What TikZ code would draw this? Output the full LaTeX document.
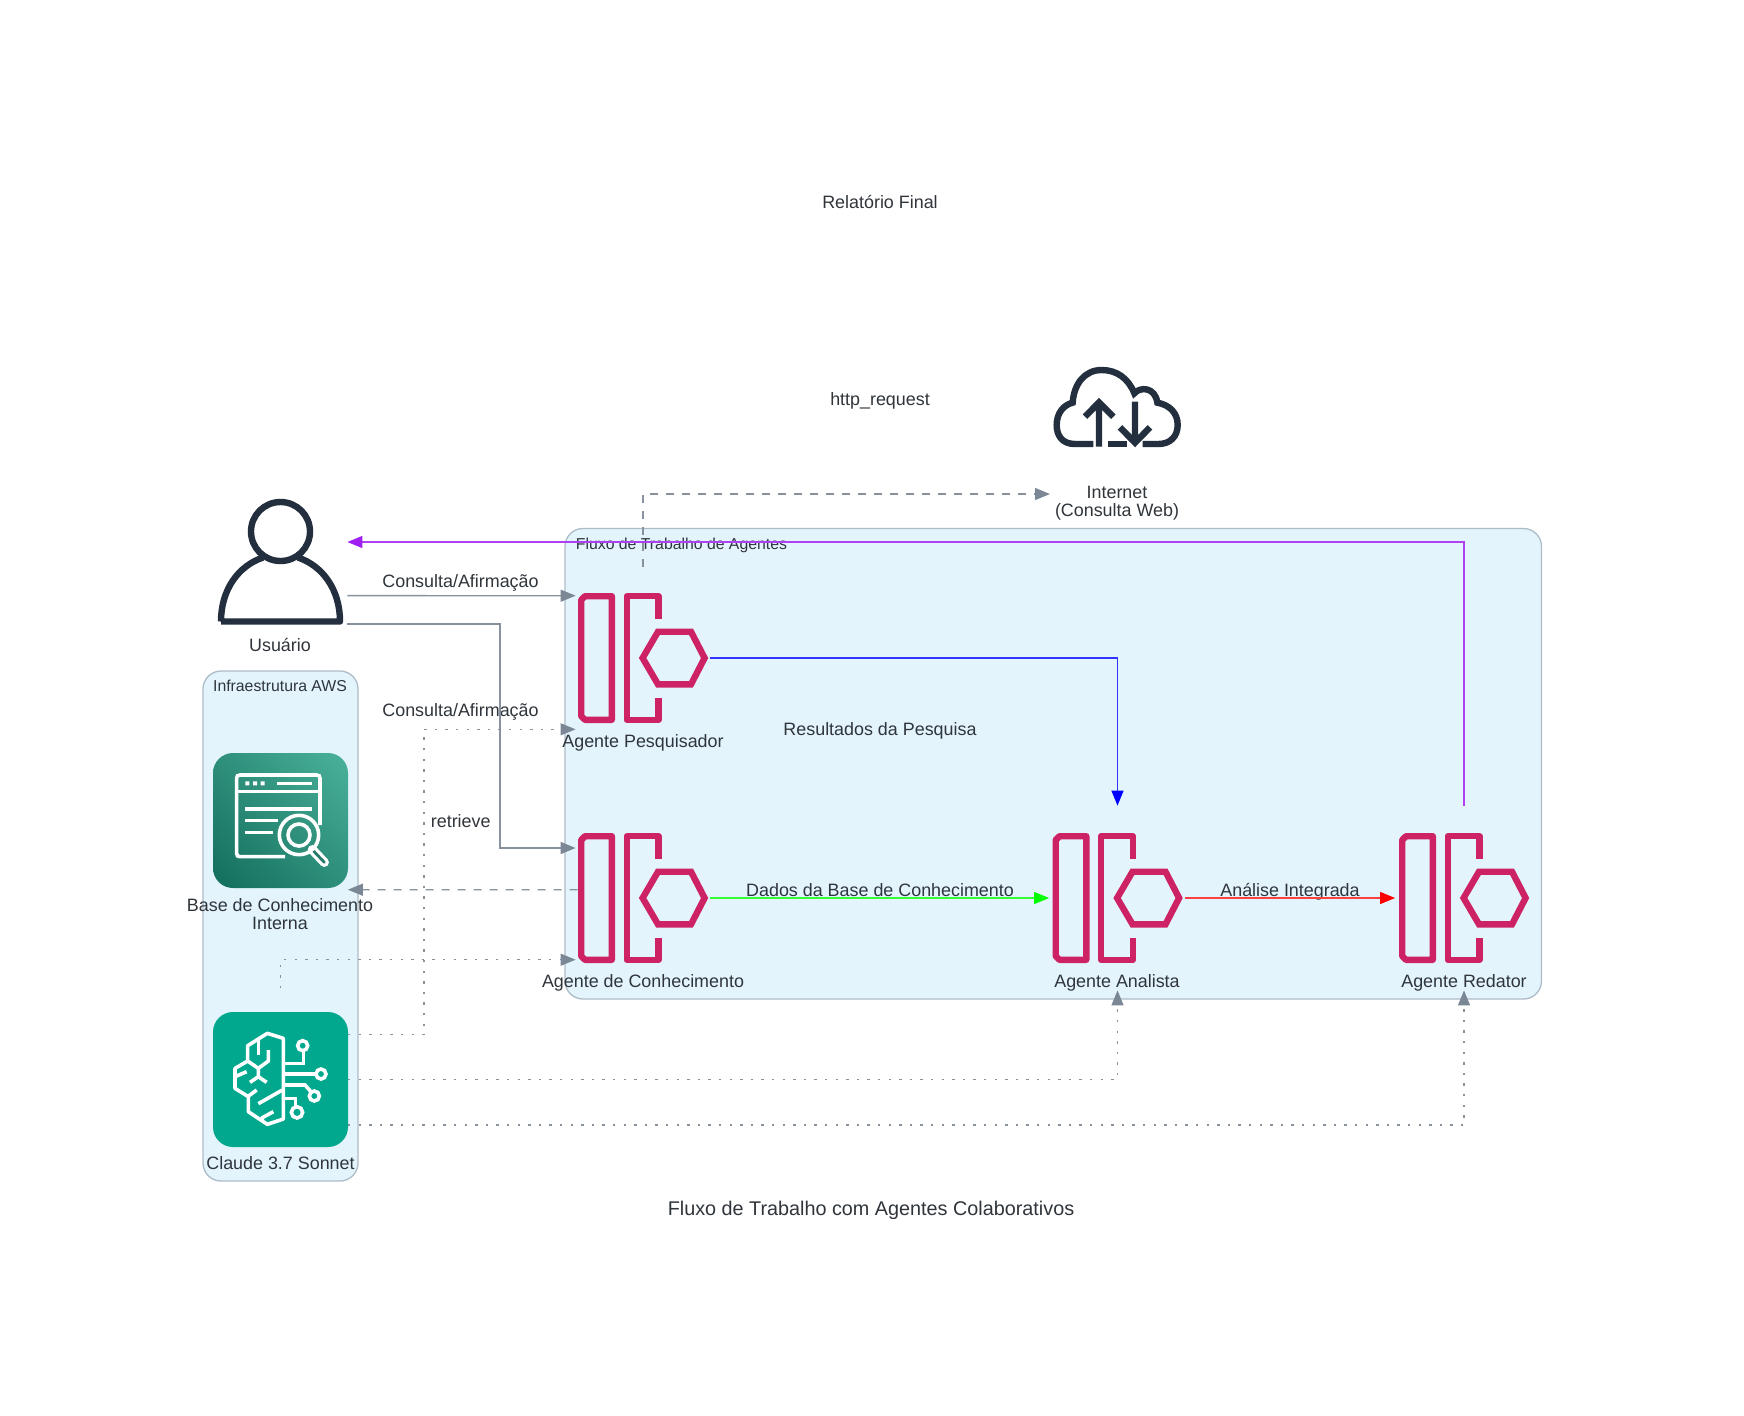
\documentclass[tikz,border=0pt]{standalone}
\usepackage{fontspec}
\setmainfont{Liberation Sans}
\usetikzlibrary{arrows.meta,calc,shadings}
\definecolor{txt}{HTML}{2F353B}
\definecolor{clfill}{HTML}{E3F4FD}
\definecolor{clline}{HTML}{AEBCC8}
\definecolor{edgegray}{HTML}{7B8794}
\definecolor{edgeline}{HTML}{87929E}
\definecolor{pink}{HTML}{CD2264}
\definecolor{ink}{HTML}{232F3E}
\definecolor{kbA}{HTML}{116D5B}
\definecolor{kbB}{HTML}{4AB29A}
\definecolor{kbM}{HTML}{2E8F7B}
\definecolor{claude}{HTML}{01A88D}
\definecolor{purp}{HTML}{A020F0}
\tikzset{
  lbl/.style={text=txt,font=\fontsize{8.95pt}{9pt}\selectfont,inner sep=0pt,align=center},
  cltitle/.style={text=txt,font=\fontsize{7.9pt}{7.9pt}\selectfont,inner sep=0pt},
  cluster/.style={draw=clline,fill=clfill,line width=.65pt,rounded corners=9pt},
  iconbox/.style={inner sep=0pt,minimum width=67pt,minimum height=67pt},
  edgebase/.style={line width=.65pt},
  solidedge/.style={edgebase,draw=edgeline,-{Triangle[length=7.5pt,width=6pt,color=edgegray]}},
  dashedge/.style={solidedge,dash pattern=on 4pt off 4pt},
  dotedge/.style={solidedge,dash pattern=on 1.2pt off 4.1pt},
  blueedge/.style={edgebase,draw=blue!80!white,-{Triangle[length=7.5pt,width=6pt,color=blue]}},
  greenedge/.style={edgebase,draw=green!80!white,-{Triangle[length=7.5pt,width=6pt,color=green]}},
  rededge/.style={edgebase,draw=red!75!white,-{Triangle[length=7.5pt,width=6pt,color=red]}},
  purpedge/.style={edgebase,draw=purp!85!white,-{Triangle[length=7.5pt,width=6pt,color=purp]}},
  agentline/.style={draw=pink,line width=3.2pt,miter limit=10},
  inkline/.style={draw=ink,line width=3.2pt},
  whiteline/.style={draw=white,line width=1.8pt},
}
\newcommand{\AgentGlyph}[2]{%
  \begin{scope}[shift={(#1,#2)}]
    \draw[agentline,line join=round] (-58,-61.8) -- (-31.2,-61.8) -- (-31.2,61.8) -- (-58,61.8) -- (-61.8,58) -- (-61.8,-58) -- cycle;
    \draw[agentline,line join=round] (15.3,-39) -- (15.3,-61.8) -- (-16.3,-61.8) -- (-16.3,61.8) -- (15.3,61.8) -- (15.3,40);
    \draw[agentline] (-0.4,0) -- (15,-26.3) -- (48,-26.3) -- (61.6,0) -- (48,26.3) -- (15,26.3) -- cycle;
  \end{scope}}
\begin{document}
\begin{tikzpicture}[x=.5pt,y=-.5pt]
\useasboundingbox (0,0) rectangle (1744,1415);
\fill[white] (0,0) rectangle (1744,1415);

% clusters
\draw[cluster] (565,528.5) rectangle (1541.5,999);
\draw[cluster] (203,671) rectangle (358,1181);
\node[cltitle,anchor=west] (fluxoTitle) at (575.5,545.5) {Fluxo de Trabalho de Agentes};
\node[cltitle] (infraTitle) at (280,686) {Infraestrutura AWS};

% anchor boxes for the icons
\node[iconbox] (user) at (280,556.5) {};
\node[iconbox] (kb) at (280.5,820.5) {};
\node[iconbox] (llm) at (280.5,1079.5) {};
\node[iconbox] (web) at (1117.5,410) {};
\node[iconbox] (pesq) at (643,658) {};
\node[iconbox] (conh) at (643,898) {};
\node[iconbox] (anal) at (1117.5,898) {};
\node[iconbox] (reda) at (1464,898) {};

% user icon
\draw[inkline] (280.5,531.5) circle (29.5);
\draw[inkline,line join=round] (221,621.5) .. controls (221,590) and (238,566) .. (263,557.5)
  (298,557.5) .. controls (323,566) and (340,590) .. (340,621.5) -- (221,621.5);

% cloud icon
\begin{scope}[shift={(1030,350)},x=.16667pt,y=-.16667pt]
  \draw[inkline,line cap=butt] (190,282) -- (135,282) .. controls (95,282) and (80,255) .. (80,225)
    .. controls (80,190) and (100,165) .. (128,158)
    .. controls (132,100) and (165,60) .. (215,60)
    .. controls (260,60) and (295,85) .. (313,130)
    .. controls (330,110) and (375,110) .. (382,158)
    .. controls (420,165) and (443,190) .. (443,225)
    .. controls (443,260) and (420,282) .. (385,282) -- (338,282);
  \draw[inkline] (235,282) -- (292,282);
  \draw[inkline] (207,290) -- (207,157) (165,200) -- (207,157) -- (250,200);
  \draw[inkline] (315,155) -- (315,278) (270,232) -- (315,278) -- (360,232);
\end{scope}

% knowledge-base icon
\shade[rounded corners=10pt,lower left=kbA,upper right=kbB,upper left=kbM,lower right=kbM]
  (213,753) rectangle (348,888);
\begin{scope}[shift={(205,745)},x=.16667pt,y=-.16667pt]
  \draw[whiteline] (240,335) -- (105,335) .. controls (98,335) and (95,332) .. (95,325) -- (95,100)
    .. controls (95,93) and (98,90) .. (105,90) -- (335,90) .. controls (342,90) and (345,93) .. (345,100) -- (345,240);
  \draw[whiteline] (95,140) -- (345,140);
  \fill[white] (121,109) rectangle (133,121) (144,109) rectangle (156,121) (167,109) rectangle (179,121);
  \draw[whiteline] (215,115) -- (320,115);
  \draw[whiteline] (120,192) -- (320,192);
  \draw[whiteline] (120,227) -- (218,227);
  \draw[whiteline] (120,262) -- (205,262);
  \draw[line width=4.6pt,white,line cap=round] (322,314) -- (358,352);
  \draw[line width=1.4pt,kbM!85!black,line cap=round] (322,314) -- (358,352);
  \draw[whiteline] (282,270) circle (59);
  \draw[whiteline] (282,270) circle (33);
\end{scope}

% model icon
\fill[claude,rounded corners=10pt] (213,1012) rectangle (348,1147);
\begin{scope}[shift={(205,1005)},x=.16667pt,y=-.16667pt]
  \draw[whiteline,line join=round] (235,100) -- (187,85) -- (128,122) -- (128,168) -- (90,190) -- (90,250) -- (130,275) -- (130,320) -- (187,358) -- (235,342) -- cycle;
  \draw[whiteline] (128,168) -- (160,190) -- (190,168) -- (190,135);
  \draw[whiteline] (160,105) -- (160,150);
  \draw[whiteline] (160,190) -- (160,215) -- (135,232) (160,215) -- (185,232);
  \draw[whiteline] (90,215) -- (125,200);
  \draw[whiteline] (128,275) -- (155,255);
  \draw[whiteline] (160,296) -- (232,255);
  \draw[whiteline] (172,345) -- (172,338) -- (205,320);
  \draw[whiteline] (235,175) -- (295,175) -- (295,137);
  \draw[whiteline] (293,122) circle (15);
  \draw[whiteline] (235,207) -- (333,207);
  \draw[whiteline] (348,207) circle (15);
  \draw[whiteline] (235,240) -- (300,240) -- (318,260);
  \draw[whiteline] (328,273) circle (15);
  \draw[whiteline] (235,280) -- (272,280) -- (272,307);
  \draw[whiteline] (276,322) circle (17);
\end{scope}

% agents
\AgentGlyph{643}{658}
\AgentGlyph{643}{898}
\AgentGlyph{1117.5}{898}
\AgentGlyph{1464}{898}

% icon labels
\node[lbl] (userLbl) at (280,645) {Usuário};
\node[lbl] (webLbl) at (1117,503) {Internet\\[-.2pt](Consulta Web)};
\node[lbl] (kbLbl) at (280,914) {Base de Conhecimento\\[-.2pt]Interna};
\node[lbl] (llmLbl) at (280.5,1163) {Claude 3.7 Sonnet};
\node[lbl] (pesqLbl) at (643,742.5) {Agente Pesquisador};
\node[lbl] (conhLbl) at (643,982.5) {Agente de Conhecimento};
\node[lbl] (analLbl) at (1117,982.5) {Agente Analista};
\node[lbl] (redaLbl) at (1464,982.5) {Agente Redator};

% free labels
\node[lbl] (finalLbl) at (880,201.5) {Relatório Final};
\node[lbl] (httpLbl) at (880,401) {http\_request};
\node[lbl] (q1Lbl) at (460.5,583) {Consulta/Afirmação};
\node[lbl] (q2Lbl) at (460.5,712) {Consulta/Afirmação};
\node[lbl] (retrLbl) at (460.7,821.5) {retrieve};
\node[lbl] (resLbl) at (880,731) {Resultados da Pesquisa};
\node[lbl] (dadosLbl) at (880,890) {Dados da Base de Conhecimento};
\node[lbl] (analIntLbl) at (1290,892) {Análise Integrada};
\node[text=txt,inner sep=0pt,font=\fontsize{9.9pt}{10pt}\selectfont] (titleLbl) at (871,1210) {Fluxo de Trabalho com Agentes Colaborativos};

% connectors
\coordinate (userOut1) at ($(user.south east)+(0,-28.3)$);
\coordinate (pesqIn1) at ($(pesq.west)+(0,-62.3)$);
\draw[solidedge] (userOut1) -- (pesqIn1);

\coordinate (bendA) at (500,848);
\coordinate (conhIn1) at ($(conh.west)+(0,-50)$);
\draw[solidedge] (user.south east) -| (bendA) -- (conhIn1);

\coordinate (pesqUp) at ($(pesq.north)+(0,-24)$);
\coordinate (webIn) at (1050,494);
\draw[dashedge] (pesqUp) |- (webIn);

\coordinate (conhOut) at ($(conh.west)+(2,-8.3)$);
\coordinate (kbIn) at ($(kb.east)+(0,69.2)$);
\draw[dashedge] (conhOut) -- (kbIn);

\coordinate (llmOut1) at ($(llm.east)+(0,-44.8)$);
\coordinate (bendB) at (424,729.3);
\coordinate (pesqIn2) at ($(pesq.west)+(0,71.3)$);
\draw[dotedge] (llmOut1) -| (bendB) -- (pesqIn2);

\coordinate (llmUp) at ($(llm.north)+(0,-24)$);
\coordinate (conhIn2) at ($(conh.west)+(0,61.7)$);
\draw[dotedge] (llmUp) |- (conhIn2);

\coordinate (analUnder) at ($(anal.south)+(0,25)$);
\coordinate (redaUnder) at ($(reda.south)+(0,25)$);
\draw[dotedge] (llm.east) -| (analUnder);
\coordinate (llmOut3) at ($(llm.east)+(0,45.5)$);
\draw[dotedge] (llmOut3) -| (redaUnder);

\coordinate (analTop) at ($(anal.north)+(0,-25)$);
\coordinate (redaTop) at ($(reda.north)+(0,-25)$);
\draw[blueedge] (pesq.east) -| (analTop);
\draw[greenedge] (conh.east) -- ($(anal.west)+(-1,0)$);
\draw[rededge] ($(anal.east)+(0,0)$) -- ($(reda.west)+(-1.5,0)$);
\coordinate (userIn) at ($(user.east)+(0,-14.5)$);
\draw[purpedge] (redaTop) |- (userIn);
\end{tikzpicture}
\end{document}
